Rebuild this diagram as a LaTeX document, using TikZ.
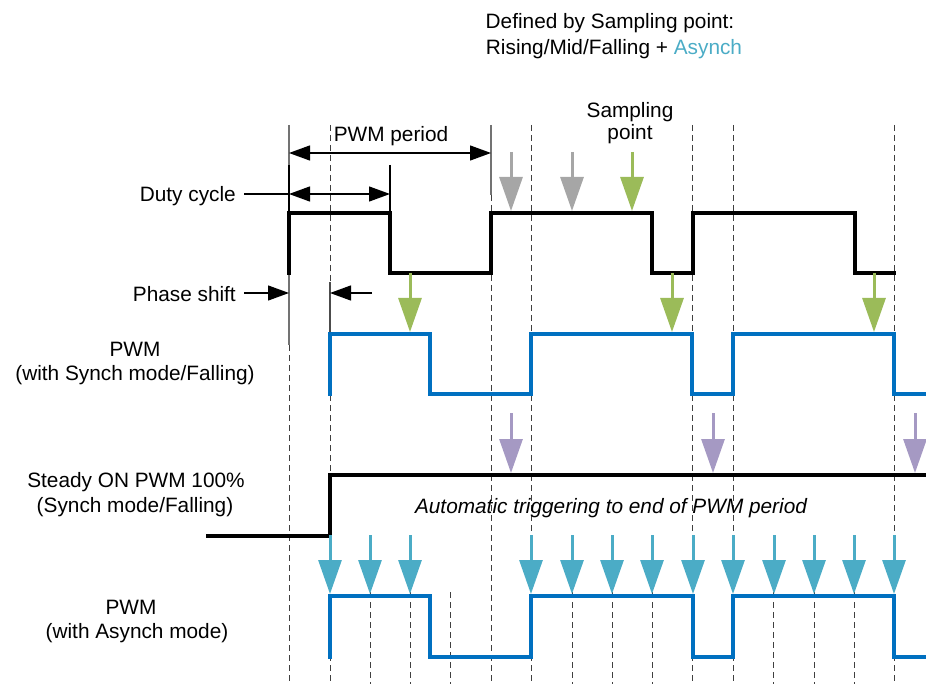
\documentclass[tikz,border=0pt]{standalone}
\usepackage{fontspec}
\setmainfont{Liberation Sans}
\usetikzlibrary{arrows.meta}
\definecolor{sgreen}{HTML}{9BBB59}
\definecolor{sgray}{HTML}{A6A6A6}
\definecolor{spurple}{HTML}{A599C3}
\definecolor{scyan}{HTML}{4BACC6}
\definecolor{sblue}{HTML}{0070C0}
\begin{document}
\begin{tikzpicture}[x=1pt,y=-1pt,
  every node/.style={inner sep=0pt,font=\fontsize{20.8}{24}\selectfont},
  lbl/.style={anchor=base},
  gridline/.style={draw=black!75,line width=1pt,dash pattern=on 6pt off 4pt},
  guide/.style={draw=black!55,line width=1.2pt},
  sig/.style={line width=3.4pt,line join=miter,line cap=rect},
  blk/.style={sig,draw=black},
  blu/.style={sig,draw=sblue},
  dim/.style={line width=1.3pt,draw=black},
  samp/.style={line width=3pt,-{Triangle[length=34pt,width=23pt]}}
]
\useasboundingbox (0,0) rectangle (926,684);
% ---- main vertical guides
\draw[guide] (289,125) -- (289,345);
\draw[gridline] (289,345) -- (289,684);
\draw[gridline] (330,125) -- (330,684);
\draw[guide,draw=black!70] (330,282) -- (330,334);
\draw[guide] (491,125) -- (491,195);
\draw[gridline] (491,195) -- (491,684);
\foreach \x in {531,692,733,894} \draw[gridline] (\x,125) -- (\x,684);
\foreach \x in {370,410,450,572,612,652,773,814,854} \draw[gridline] (\x,592) -- (\x,684);
\draw[dim] (390,165) -- (390,213);
\draw[dim] (289,165) -- (289,213);
% ---- signals
\draw[blk] (289,273) -- (289,213) -- (390,213) -- (390,273) -- (491,273) -- (491,213) -- (652,213) -- (652,273) -- (693,273) -- (693,213) -- (855,213) -- (855,273) -- (894,273);
\draw[blu] (330,394) -- (330,334) -- (430,334) -- (430,394) -- (531,394) -- (531,334) -- (692,334) -- (692,394) -- (733,394) -- (733,334) -- (894,334) -- (894,394) -- (926,394);
\draw[blk] (208,536) -- (330,536) -- (330,475) -- (926,475);
\draw[blu] (330,657) -- (330,596) -- (430,596) -- (430,657) -- (531,657) -- (531,596) -- (693,596) -- (693,657) -- (733,657) -- (733,596) -- (894,596) -- (894,657) -- (926,657);
% ---- sampling arrows
\foreach \x in {511,572} \draw[samp,sgray] (\x,152) -- (\x,211);
\draw[samp,sgreen] (632,152) -- (632,211);
\foreach \x in {410,672,874} \draw[samp,sgreen] (\x,273) -- (\x,332);
\foreach \x in {511,713,915} \draw[samp,spurple] (\x,413) -- (\x,473);
\foreach \x in {330,370,410,531,572,612,652,693,733,774,814,854,894} \draw[samp,scyan] (\x,535) -- (\x,594);
% ---- dimension arrows
\draw[dim,{Triangle[length=21pt,width=15pt]}-{Triangle[length=21pt,width=15pt]}] (289,153) -- (491,153);
\draw[dim,{Triangle[length=21pt,width=15pt]}-{Triangle[length=21pt,width=15pt]}] (289,194) -- (390,194);
\draw[dim] (244,194) -- (289,194);
\draw[dim,-{Triangle[length=21pt,width=15pt]}] (244,293) -- (289,293);
\draw[dim,-{Triangle[length=21pt,width=15pt]}] (372,293) -- (330,293);
% ---- labels
\node[lbl] (t1) at (610,29) {Defined by Sampling point:};
\node[lbl] (t2) at (614,55) {Rising/Mid/Falling + \textcolor{scyan}{Asynch}};
\node[lbl] (per) at (391,142) {PWM period};
\node[lbl] (sp1) at (630,118) {Sampling};
\node[lbl] (sp2) at (630,140) {point};
\node[lbl,anchor=base east] (duty) at (236,202) {Duty cycle};
\node[lbl,anchor=base east] (phase) at (236,302) {Phase shift};
\node[lbl] (p1a) at (135,357) {PWM};
\node[lbl] (p1b) at (135,381) {(with Synch mode/Falling)};
\node[lbl] (s1a) at (136,487) {Steady ON PWM 100\%};
\node[lbl] (s1b) at (135,512) {(Synch mode/Falling)};
\node[lbl] (auto) at (611,513) {\itshape Automatic triggering to end of PWM period};
\node[lbl] (p2a) at (131,614) {PWM};
\node[lbl] (p2b) at (137,638) {(with Asynch mode)};
\end{tikzpicture}
\end{document}
